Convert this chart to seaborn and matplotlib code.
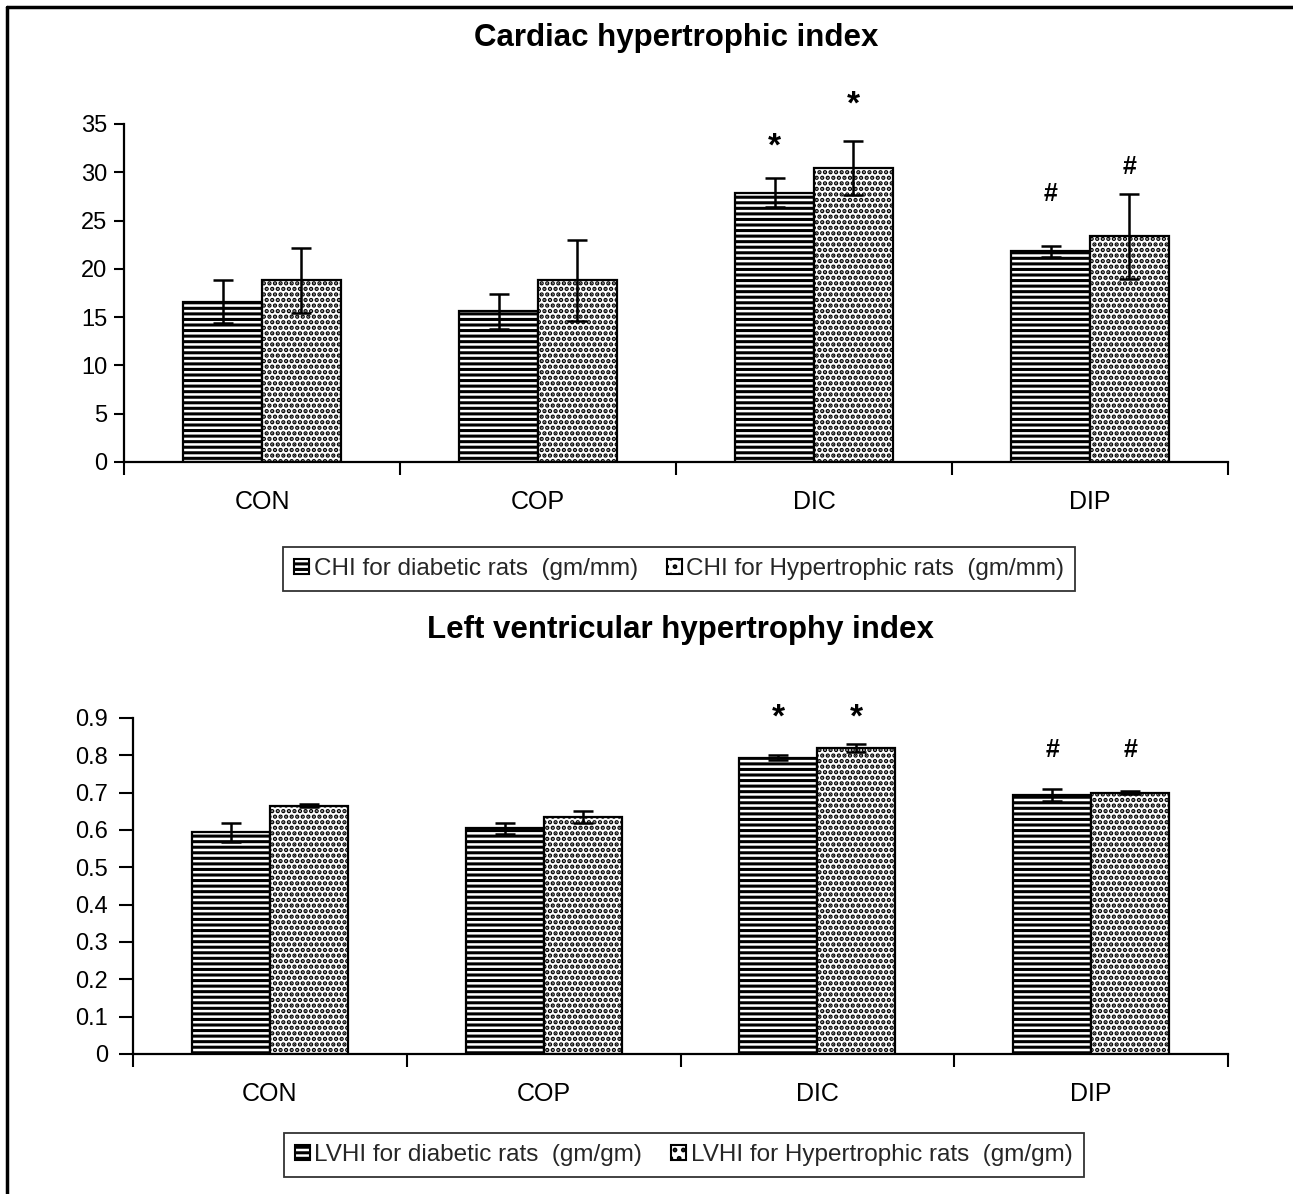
import numpy as np
import pandas as pd
import matplotlib
matplotlib.use("Agg")
import matplotlib.pyplot as plt
import seaborn as sns
from matplotlib.patches import Patch
from matplotlib.lines import Line2D
from matplotlib.container import BarContainer

# ---------------- data ----------------
groups = ["CON", "COP", "DIC", "DIP"]

chi_title = "Cardiac hypertrophic index"
chi_series = ["CHI for diabetic rats  (gm/mm)", "CHI for Hypertrophic rats  (gm/mm)"]
chi_diabetic = [16.6, 15.6, 27.9, 21.8]
chi_diabetic_err = [2.2, 1.8, 1.5, 0.6]
chi_hyper = [18.8, 18.8, 30.4, 23.4]
chi_hyper_err = [3.4, 4.2, 2.8, 4.4]
chi_marks = ["", "", "*", "#"]
chi_mark_diab_y = [None, None, 32.6, 27.8]
chi_mark_hyper_y = [None, None, 37.0, 30.5]
chi_yticks = [0, 5, 10, 15, 20, 25, 30, 35]

lvhi_title = "Left ventricular hypertrophy index"
lvhi_series = ["LVHI for diabetic rats  (gm/gm)", "LVHI for Hypertrophic rats  (gm/gm)"]
lvhi_diabetic = [0.594, 0.605, 0.794, 0.694]
lvhi_diabetic_err = [0.025, 0.015, 0.007, 0.016]
lvhi_hyper = [0.665, 0.635, 0.820, 0.700]
lvhi_hyper_err = [0.004, 0.015, 0.010, 0.004]
lvhi_marks = ["", "", "*", "#"]
lvhi_mark_diab_y = [None, None, 0.90, 0.815]
lvhi_mark_hyper_y = [None, None, 0.90, 0.815]
lvhi_yticks = [0, 0.1, 0.2, 0.3, 0.4, 0.5, 0.6, 0.7, 0.8, 0.9]
lvhi_yticklabels = ["0", "0.1", "0.2", "0.3", "0.4", "0.5", "0.6", "0.7", "0.8", "0.9"]

# ---------------- style ----------------
sns.set_theme(style="white")
plt.rcParams["font.family"] = ["Liberation Sans", "DejaVu Sans"]
plt.rcParams["hatch.linewidth"] = 2.2
plt.rcParams["hatch.color"] = "black"

fig = plt.figure(figsize=(12.93, 11.94), dpi=100)
W, H = 1293, 1194


def fr(x0, y0, x1, y1):
    return [x0 / W, 1 - y1 / H, (x1 - x0) / W, (y1 - y0) / H]


ax1 = fig.add_axes(fr(124, 124, 1228, 462))
ax2 = fig.add_axes(fr(133, 718, 1228, 1054))

hatches = ["---", "..."]


def panel(ax, title, series, diab, diab_err, hyper, hyper_err, marks, mdy, mhy,
          ylim, yticks, yticklabels, legend_y, title_y, ytick_len, ytick_pad):
    df = pd.DataFrame({
        "group": groups * 2,
        "series": [series[0]] * len(groups) + [series[1]] * len(groups),
        "value": list(diab) + list(hyper),
    })
    sns.barplot(data=df, x="group", y="value", hue="series", order=groups,
                hue_order=series, palette=["white", "white"], width=0.57,
                errorbar=None, edgecolor="black", linewidth=1.6, ax=ax,
                legend=False)
    bar_conts = [c for c in ax.containers if isinstance(c, BarContainer)]
    errs = [diab_err, hyper_err]
    vals = [diab, hyper]
    marks_y = [mdy, mhy]
    for k, cont in enumerate(bar_conts):
        for j, bar in enumerate(cont.patches):
            bar.set_hatch(hatches[k])
            bar.set_facecolor("white")
            bar.set_edgecolor("black")
            xc = bar.get_x() + bar.get_width() / 2
            ax.errorbar(xc, vals[k][j], yerr=errs[k][j], color="black",
                        lw=1.8, capsize=7, capthick=1.8, zorder=5)
            if marks[j] and marks_y[k][j] is not None:
                fs = 24 if marks[j] == "*" else 18
                ax.text(xc, marks_y[k][j], marks[j], ha="center", va="center",
                        fontsize=fs, fontweight="bold", color="black",
                        clip_on=False)
    ax.set_xlim(-0.5, len(groups) - 0.5)
    ax.set_ylim(*ylim)
    ax.set_yticks(yticks)
    ax.set_yticklabels(yticklabels, fontsize=17, color="black")
    ax.set_xticks(range(len(groups)))
    ax.set_xticklabels(groups, fontsize=18, color="black")
    ax.set_xticks(np.arange(-0.5, len(groups), 1.0), minor=True)
    ax.tick_params(axis="x", which="major", length=0, pad=20)
    ax.tick_params(axis="x", which="minor", length=9, width=1.5,
                   direction="out", color="black", bottom=True)
    ax.tick_params(axis="y", length=ytick_len, width=1.5, direction="out",
                   color="black", left=True, pad=ytick_pad)
    ax.set_xlabel("")
    ax.set_ylabel("")
    for s in ["top", "right"]:
        ax.spines[s].set_visible(False)
    for s in ["left", "bottom"]:
        ax.spines[s].set_color("black")
        ax.spines[s].set_linewidth(1.6)
    handles = [Patch(facecolor="white", edgecolor="black", hatch="---", lw=1.5),
               Patch(facecolor="white", edgecolor="black", hatch="..", lw=1.5)]
    leg = ax.legend(handles, series, loc="center", bbox_to_anchor=(0.503, legend_y),
                    ncol=2, frameon=True, fancybox=False, fontsize=17.5,
                    handlelength=0.6, handleheight=0.6, handletextpad=0.2,
                    columnspacing=1.2, borderpad=0.45, edgecolor="black")
    leg.get_frame().set_linewidth(1.3)
    t = ax.set_title(title, fontsize=22.5, fontweight="bold", color="black",
                     y=title_y, pad=0, va="center")


panel(ax1, chi_title, chi_series, chi_diabetic, chi_diabetic_err, chi_hyper,
      chi_hyper_err, chi_marks, chi_mark_diab_y, chi_mark_hyper_y,
      (0, 35), chi_yticks, [str(v) for v in chi_yticks], -0.317,
      (462 - 38) / 338, 7, 5)
panel(ax2, lvhi_title, lvhi_series, lvhi_diabetic, lvhi_diabetic_err, lvhi_hyper,
      lvhi_hyper_err, lvhi_marks, lvhi_mark_diab_y, lvhi_mark_hyper_y,
      (0, 0.9), lvhi_yticks, lvhi_yticklabels, -0.30,
      (1054 - 630) / 336, 10, 8)

# figure border (top and left edges)
fig.add_artist(Line2D([7 / W, 7 / W], [0, 1 - 7 / H], transform=fig.transFigure,
                      color="black", lw=2.5))
fig.add_artist(Line2D([7 / W, 1], [1 - 7 / H, 1 - 7 / H], transform=fig.transFigure,
                      color="black", lw=2.5))

fig.savefig("out.png", dpi=100, facecolor="white")
